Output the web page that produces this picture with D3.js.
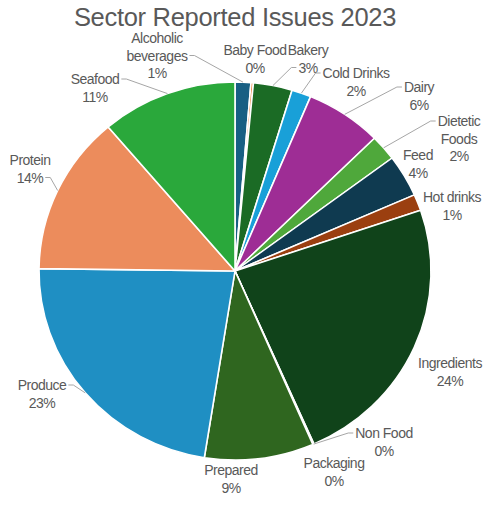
<!DOCTYPE html>
<html>
<head>
<meta charset="utf-8">
<script src="https://cdn.jsdelivr.net/npm/d3@7"></script>
<style>
  html, body { margin: 0; padding: 0; background: #fff; }
  svg { display: block; font-family: "Liberation Sans", Arial, sans-serif; }
</style>
</head>
<body>
<svg id="chart" width="485" height="505"></svg>
<script>
// Share of reported issues per sector (percent of total), clockwise from 12 o'clock
const categories = [
  "Alcoholic beverages", "Baby Food", "Bakery", "Cold Drinks", "Dairy",
  "Dietetic Foods", "Feed", "Hot drinks", "Ingredients", "Non Food",
  "Packaging", "Prepared", "Produce", "Protein", "Seafood"
];
const shares = [1.3, 0.2, 3.2, 1.6, 6.3, 2.2, 3.6, 1.4, 23.6, 0.05, 0.05, 9.0, 22.7, 13.6, 11.2];
const sliceColors = [
  "#185f83", "#ea7a2e", "#1b6b25", "#19a0d8", "#9e2d95",
  "#4fa83b", "#0f3a50", "#9b3f10", "#10431a", "#7f7f7f",
  "#a5a5a5", "#2f661f", "#1f8fc3", "#ec8c5c", "#2aa83b"
];
// Label text lines per sector (percent line is appended from the data)
const labelNames = [
  ["Alcoholic", "beverages"], ["Baby Food"], ["Bakery"], ["Cold Drinks"], ["Dairy"],
  ["Dietetic", "Foods"], ["Feed"], ["Hot drinks"], ["Ingredients"], ["Non Food"],
  ["Packaging"], ["Prepared"], ["Produce"], ["Protein"], ["Seafood"]
];

// Label placement: centre x, first-line centre y, and the line a leader starts from (-1 = none)
const labelLayout = {
  "Alcoholic beverages": { x: 157, y: 38, lead: 1 },
  "Baby Food":           { x: 255, y: 50, lead: -1 },
  "Bakery":              { x: 308, y: 50, lead: 1 },
  "Cold Drinks":         { x: 356, y: 73, lead: 0 },
  "Dairy":               { x: 419, y: 87, lead: 0 },
  "Dietetic Foods":      { x: 459, y: 121, lead: 0 },
  "Feed":                { x: 418, y: 155, lead: -1 },
  "Hot drinks":          { x: 452, y: 197, lead: -1 },
  "Ingredients":         { x: 450, y: 363, lead: -1 },
  "Non Food":            { x: 384, y: 433, lead: 0 },
  "Packaging":           { x: 334, y: 463, lead: -1 },
  "Prepared":            { x: 231, y: 470, lead: -1 },
  "Produce":             { x: 42,  y: 385, lead: 0 },
  "Protein":             { x: 30,  y: 160, lead: 1 },
  "Seafood":             { x: 95,  y: 79,  lead: 0 }
};

const width = 485, height = 505;
const cx = 235, cy = 271, rx = 196, ry = 189;
const lineGap = 17.5;
const textColor = "#595959";

const svg = d3.select("#chart");

svg.append("text")
  .attr("x", 235)
  .attr("y", 25.5)
  .attr("text-anchor", "middle")
  .attr("font-size", 25.5)
  .attr("letter-spacing", -0.3)
  .attr("fill", textColor)
  .text("Sector Reported Issues 2023");

const data = categories.map((c, i) => ({ category: c, value: shares[i], color: sliceColors[i], names: labelNames[i] }));
const total = d3.sum(data, d => d.value);
const pct = d3.format(".0%");

const pie = d3.pie().sort(null).value(d => d.value);
const arcs = pie(data);
const arc = d3.arc().innerRadius(0).outerRadius(rx);

// The pie is drawn slightly flattened vertically
const g = svg.append("g").attr("transform", `translate(${cx},${cy}) scale(1,${ry / rx})`);

g.selectAll("path.slice")
  .data(arcs)
  .join("path")
  .attr("class", "slice")
  .attr("d", arc)
  .attr("fill", d => d.data.color)
  .attr("stroke", "#fff")
  .attr("stroke-width", 1.6)
  .attr("stroke-linejoin", "round");

// Labels and leader lines
const labels = svg.append("g");
const leaders = svg.append("g");

arcs.forEach(a => {
  const lay = labelLayout[a.data.category];
  const lines = a.data.names.concat([pct(a.data.value / total)]);
  const t = labels.append("text")
    .attr("text-anchor", "middle")
    .attr("font-size", 14)
    .attr("letter-spacing", -0.5)
    .attr("fill", textColor);
  lines.forEach((ln, k) => {
    t.append("tspan")
      .attr("x", lay.x)
      .attr("y", lay.y + k * lineGap + 5)
      .text(ln);
  });

  if (lay.lead >= 0) {
    const mid = (a.startAngle + a.endAngle) / 2;
    const px = cx + rx * Math.sin(mid);
    const py = cy - ry * Math.cos(mid);
    const span = t.selectAll("tspan").nodes()[lay.lead];
    const w = span.getComputedTextLength();
    const ly = lay.y + lay.lead * lineGap;
    const right = px > lay.x;
    const sx = right ? lay.x + w / 2 + 2 : lay.x - w / 2 - 2;
    const hx = right ? sx + 5 : sx - 5;
    leaders.append("polyline")
      .attr("points", [[sx, ly], [hx, ly], [px, py]].map(p => p.join(",")).join(" "))
      .attr("fill", "none")
      .attr("stroke", "#a6a6a6")
      .attr("stroke-width", 1);
  }
});
</script>
</body>
</html>
